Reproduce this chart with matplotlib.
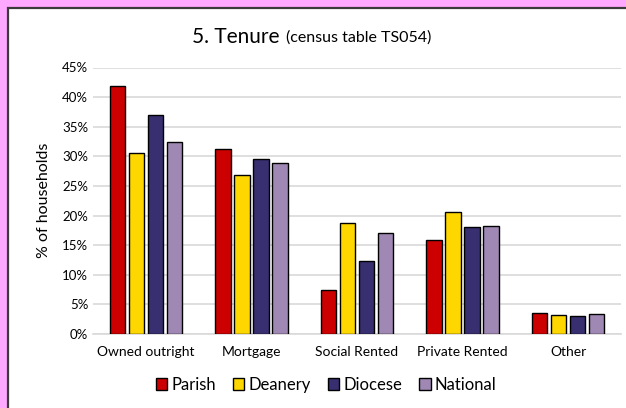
import matplotlib.pyplot as plt
import matplotlib.patches as mpatches
import numpy as np
from matplotlib.ticker import PercentFormatter

plt.rcParams["font.family"] = ["Lato", "DejaVu Sans"]

categories = ["Owned outright", "Mortgage", "Social Rented", "Private Rented", "Other"]
series_names = ["Parish", "Deanery", "Diocese", "National"]
parish = [41.8, 31.2, 7.4, 15.9, 3.6]
deanery = [30.6, 26.9, 18.7, 20.6, 3.2]
diocese = [36.9, 29.5, 12.4, 18.0, 3.1]
national = [32.5, 28.8, 17.1, 18.2, 3.3]
colors = ["#CC0000", "#FFD700", "#382F70", "#A088B4"]

fig = plt.figure(figsize=(6.26, 4.08), dpi=100)
fig.patch.set_facecolor("#FFA8FF")

W, H = 626, 408
frame = mpatches.Rectangle(
    (7.5 / W, -0.1), 1.2, (H - 7.5) / H + 0.1,
    transform=fig.transFigure, facecolor="white", edgecolor="#3a3a3a",
    linewidth=1.6, zorder=-10,
)
fig.patches.append(frame)

ax = fig.add_axes([93 / W, 1 - 334 / H, (621 - 93) / W, (334 - 67.5) / H])
ax.set_facecolor("none")

x = np.arange(len(categories))
pitch = 0.18
width = 0.145
for i, (vals, col, name) in enumerate(zip([parish, deanery, diocese, national], colors, series_names)):
    ax.bar(x + (i - 1.5) * pitch, vals, width=width, color=col, edgecolor="black",
           linewidth=1.0, label=name, zorder=3)

ax.set_xlim(-0.5, len(categories) - 0.5)
ax.set_ylim(0, 45)
ax.set_yticks(np.arange(0, 46, 5))
ax.yaxis.set_major_formatter(PercentFormatter(decimals=0))
ax.grid(axis="y", color="#D9D9D9", linewidth=1.2, zorder=0)
for s in ["top", "right", "left"]:
    ax.spines[s].set_visible(False)
ax.spines["bottom"].set_color("#D9D9D9")
ax.spines["bottom"].set_linewidth(1.2)
ax.tick_params(axis="both", length=0, labelsize=9.5, colors="black")
ax.tick_params(axis="x", pad=9, labelsize=10)
ax.set_xticks(x)
ax.set_xticklabels(categories)
ax.set_ylabel("% of households", fontsize=11.5, labelpad=8)

fig.text(285 / W, 1 - 37 / H, "5. Tenure ", ha="right", va="center", fontsize=15)
fig.text(286 / W, 1 - 38 / H, "(census table TS054)", ha="left", va="center", fontsize=11.5)

handles = [mpatches.Patch(facecolor=c, edgecolor="black", linewidth=1.0) for c in colors]
fig.legend(handles, series_names, loc="center", bbox_to_anchor=(326 / W, 1 - 385 / H),
           ncol=4, frameon=False, fontsize=12, handlelength=0.7, handleheight=0.7,
           handletextpad=0.25, columnspacing=1.0)

fig.savefig("out.png", dpi=100, facecolor=fig.get_facecolor())
